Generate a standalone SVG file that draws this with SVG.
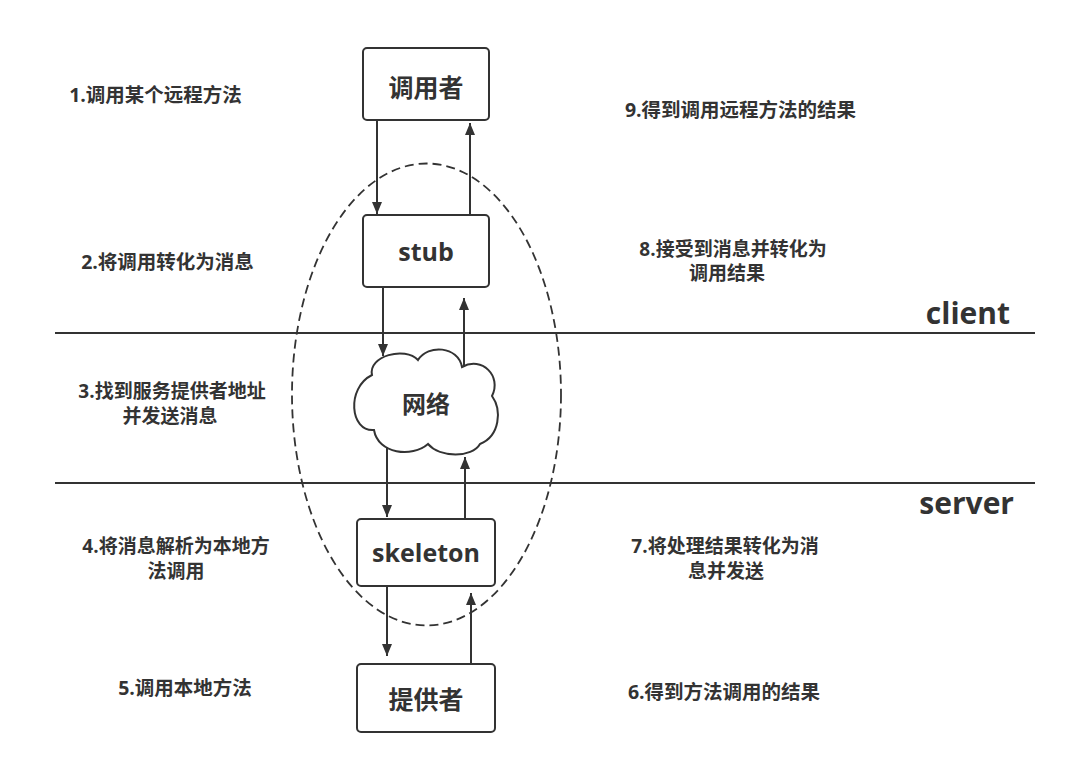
<svg xmlns="http://www.w3.org/2000/svg" width="1080" height="764" viewBox="0 0 1080 764">
  <defs>
    <marker id="arr" viewBox="0 0 12 10" refX="12" refY="5" markerWidth="12" markerHeight="10" markerUnits="userSpaceOnUse" orient="auto">
      <path d="M0 0 L12 5 L0 10 Z" fill="#333"/>
    </marker>
    <style>
      .box{fill:#fff;stroke:#333;stroke-width:2}
      .conn{stroke:#333;stroke-width:2;fill:none}
      .lbl{font-family:"Open Sans","Noto Sans CJK SC",sans-serif;font-weight:bold;font-size:19.5px;fill:#333;text-anchor:middle}
      .ml{font-size:19px}
      .node{font-family:"Open Sans","Noto Sans CJK SC",sans-serif;font-weight:bold;font-size:25px;fill:#333;text-anchor:middle}
      .side{font-family:"Open Sans",sans-serif;font-weight:bold;font-size:30px;fill:#333;text-anchor:end}
    </style>
  </defs>
  <rect width="1080" height="764" fill="#fff"/>

  <g id="separators">
    <line x1="55" y1="333" x2="1035" y2="333" class="conn"/>
    <line x1="55" y1="483" x2="1035" y2="483" class="conn"/>
    <text class="side" x="1010" y="324">client</text>
    <text class="side" x="1014" y="514">server</text>
  </g>

  <ellipse id="boundary" cx="426.5" cy="394.5" rx="134.5" ry="231" fill="none" stroke="#333" stroke-width="1.8" stroke-dasharray="9 5"/>

  <g id="caller">
    <rect class="box" x="363" y="48" width="126" height="72" rx="4"/>
    <text class="node" x="426" y="97">调用者</text>
  </g>
  <g id="stub">
    <rect class="box" x="363" y="215" width="126" height="72" rx="4"/>
    <text class="node" x="426" y="261">stub</text>
  </g>
  <g id="network">
    <path class="box" d="M 372 375 C 368 356, 405 346, 418 360 C 428 344, 458 346, 462 367 C 482 356, 502 376, 492 396 C 502 410, 500 436, 480 444 C 472 458, 440 458, 428 444 C 412 458, 378 454, 374 430 C 350 432, 346 388, 372 375 Z"/>
    <text class="node" x="426" y="413" style="font-size:24px">网络</text>
  </g>
  <g id="skeleton">
    <rect class="box" x="357" y="519" width="138" height="67" rx="4"/>
    <text class="node" x="426" y="562">skeleton</text>
  </g>
  <g id="provider">
    <rect class="box" x="357" y="664" width="138" height="68" rx="4"/>
    <text class="node" x="426" y="709">提供者</text>
  </g>

  <g id="connectors">
    <line class="conn" x1="377" y1="120" x2="377" y2="214" marker-end="url(#arr)"/>
    <line class="conn" x1="470" y1="215" x2="470" y2="123" marker-end="url(#arr)"/>
    <line class="conn" x1="383" y1="287" x2="383" y2="356" marker-end="url(#arr)"/>
    <line class="conn" x1="464" y1="367" x2="464" y2="298" marker-end="url(#arr)"/>
    <line class="conn" x1="387" y1="447" x2="387" y2="517" marker-end="url(#arr)"/>
    <line class="conn" x1="465" y1="519" x2="465" y2="457" marker-end="url(#arr)"/>
    <line class="conn" x1="387" y1="586" x2="387" y2="656" marker-end="url(#arr)"/>
    <line class="conn" x1="471" y1="664" x2="471" y2="593" marker-end="url(#arr)"/>
  </g>

  <g id="labels">
    <text class="lbl" x="155.5" y="102">1.调用某个远程方法</text>
    <text class="lbl" x="740.5" y="117">9.得到调用远程方法的结果</text>
    <text class="lbl" x="167.5" y="269">2.将调用转化为消息</text>
    <text class="lbl ml" x="733" y="256">8.接受到消息并转化为</text>
    <text class="lbl ml" x="727" y="280">调用结果</text>
    <text class="lbl ml" x="172" y="398">3.找到服务提供者地址</text>
    <text class="lbl ml" x="170" y="423">并发送消息</text>
    <text class="lbl ml" x="176" y="553">4.将消息解析为本地方</text>
    <text class="lbl ml" x="176" y="578">法调用</text>
    <text class="lbl ml" x="725" y="553">7.将处理结果转化为消</text>
    <text class="lbl ml" x="726" y="578">息并发送</text>
    <text class="lbl" x="185" y="695">5.调用本地方法</text>
    <text class="lbl" x="724" y="699">6.得到方法调用的结果</text>
  </g>
</svg>
